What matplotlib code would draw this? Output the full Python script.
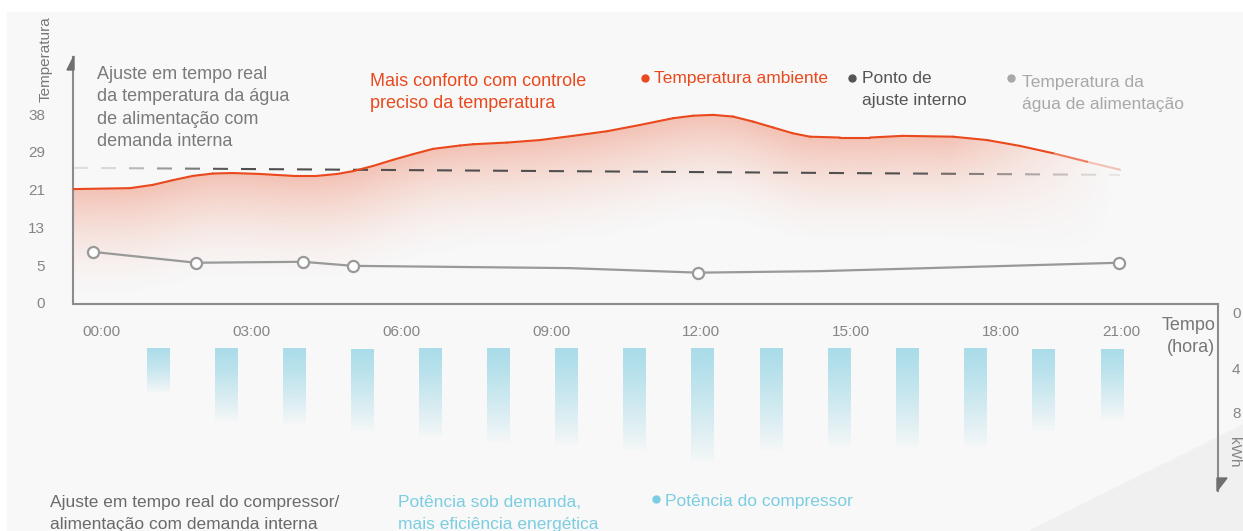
import numpy as np
import matplotlib.pyplot as plt
from matplotlib.patches import Polygon, Rectangle
from matplotlib.lines import Line2D
from matplotlib.collections import LineCollection
from matplotlib.colors import to_rgb

plt.rcParams['font.family'] = ['Liberation Sans', 'DejaVu Sans']

# ---- data ----
hour_ticks = [0, 3, 6, 9, 12, 15, 18, 20.4]
hour_labels = ['00:00', '03:00', '06:00', '09:00', '12:00', '15:00', '18:00', '21:00']
temp_ticks = [0, 5, 13, 21, 29, 38]
kwh_ticks = [0, 4, 8]

# ambient temperature (red)
amb_h = [-0.56, 0.58, 1.04, 1.44, 1.84, 2.24, 2.64, 3.18, 3.84, 4.32, 4.72, 5.04,
         5.44, 5.84, 6.24, 6.64, 7.18, 7.44, 8.12, 8.78, 9.44, 10.12, 10.78, 11.44,
         11.84, 12.24, 12.64, 13.04, 13.44, 13.84, 14.18, 14.78, 15.38, 16.04, 17.04,
         17.72, 18.38, 19.04, 19.72, 20.38]
amb_t = [21.1, 21.3, 22.0, 23.0, 23.9, 24.4, 24.5, 24.3, 23.9, 23.9, 24.3, 24.9,
         26.0, 27.3, 28.5, 29.7, 30.5, 30.8, 31.2, 31.8, 32.8, 33.9, 35.4, 37.0,
         37.6, 37.8, 37.4, 36.2, 34.8, 33.4, 32.6, 32.4, 32.4, 32.8, 32.6,
         31.8, 30.4, 28.7, 26.9, 25.2]

# internal set point (dashed)
set_h = [-0.56, 20.38]
set_t = [25.6, 24.1]

# supply water temperature (grey)
water_h = [-0.16, 1.9, 4.04, 5.04, 9.38, 11.94, 14.38, 20.36]
water_t = [7.8, 5.5, 5.7, 4.9, 4.6, 4.0, 4.2, 5.5]
water_marked = [0, 1, 2, 3, 5, 7]

# compressor power bars (kWh, axis grows downward)
bar_h = [1.14, 2.5, 3.86, 5.22, 6.58, 7.94, 9.3, 10.66, 12.02, 13.4, 14.76, 16.12,
         17.48, 18.84, 20.22]
bar_top = 2.5
bar_bottom = [6.2, 8.7, 9.0, 9.6, 10.2, 10.7, 10.9, 11.5, 12.5, 11.5, 11.1, 11.1,
              11.1, 9.6, 8.6]

RED = '#e9491d'
BLUE = '#a9dce9'
AXIS = '#8c8c8c'

# uneven axes -> piecewise linear scales
t_vals = [-5, 0, 5, 13, 21, 29, 38, 47, 56]
t_pos = [-1, 0, 1, 2, 3, 4, 5, 6, 7]
k_vals = [-4, 0, 4, 8, 20]
k_pos = [-57, 0, 57, 101, 233]


def t_fwd(v):
    return np.interp(v, t_vals, t_pos)


def t_inv(p):
    return np.interp(p, t_pos, t_vals)


def k_fwd(v):
    return np.interp(v, k_vals, k_pos)


def k_inv(p):
    return np.interp(p, k_pos, k_vals)


W, H = 1243, 531
fig = plt.figure(figsize=(W / 100, H / 100), dpi=100)
fig.patch.set_facecolor('white')


def fx(px):
    return px / W


def fy(py):
    return 1 - py / H


# background panel
fig.patches.append(Rectangle((fx(7), 0), 1, fy(12), transform=fig.transFigure,
                             color='#f8f8f8', zorder=-10))
fig.patches.append(Polygon([(fx(1030), 0), (1, fy(425)), (1, 0)], transform=fig.transFigure,
                           color='#f0f0f0', zorder=-9))

# ---- temperature panel ----
ax = fig.add_axes([fx(73), fy(304), fx(1218) - fx(73), fy(57) - fy(304)])
ax.set_facecolor('none')
ax.set_yscale('function', functions=(t_fwd, t_inv))
ax.set_xlim(-0.56, 22.34)
ax.set_ylim(t_inv(-0.03), t_inv(6.51))
ax.set_autoscale_on(False)
for s in ['top', 'right']:
    ax.spines[s].set_visible(False)
for s in ['left', 'bottom']:
    ax.spines[s].set_color(AXIS)
    ax.spines[s].set_linewidth(1.5)
ax.set_yticks(temp_ticks)
ax.set_yticklabels([str(t) for t in temp_ticks])
ax.minorticks_off()
ax.set_xticks(hour_ticks)
ax.set_xticklabels(hour_labels)
ax.tick_params(axis='both', length=0, labelsize=11, labelcolor='#858585')
ax.tick_params(axis='x', pad=15)
ax.tick_params(axis='y', pad=20)

# gradient fill under the ambient curve
to_axes = ax.transData + ax.transAxes.inverted()
curve = to_axes.transform(np.column_stack([amb_h, amb_t]))
ax_h_px = fy(57) * H - fy(304) * H
ax_w_px = 1218 - 73
nx, ny = 600, 300
xs = np.linspace(0, 1, nx)
ys = np.linspace(0, 1, ny)
cy = np.interp(xs, curve[:, 0], curve[:, 1])
dist = (cy[None, :] - ys[:, None]) * ax_h_px
alpha = 0.31 * np.clip(1 - dist / 115, 0, 1) ** 1.8
xend = curve[-1, 0]
alpha *= np.clip((xend - xs[None, :]) * ax_w_px / 170, 0, 1) ** 1.3
img = np.zeros((ny, nx, 4))
img[..., :3] = to_rgb(RED)
img[..., 3] = alpha
im = ax.imshow(img, extent=[0, 1, 0, 1], transform=ax.transAxes, origin='lower',
               aspect='auto', interpolation='bilinear', zorder=1)
clip = Polygon(np.vstack([[curve[0, 0], 0], curve, [curve[-1, 0], 0]]),
               transform=ax.transAxes, facecolor='none', edgecolor='none')
ax.add_patch(clip)
im.set_clip_path(clip)

# ambient line, fading at its right end
pts = np.column_stack([amb_h, amb_t])
segs = np.stack([pts[:-1], pts[1:]], axis=1)
mid = (np.array(amb_h[:-1]) + np.array(amb_h[1:])) / 2
a = np.clip((20.6 - mid) / 1.8, 0.12, 1)
cols = [(*to_rgb(RED), v) for v in a]
ax.add_collection(LineCollection(segs, colors=cols, linewidths=1.5, zorder=3,
                                 capstyle='round', joinstyle='round'))

# dashed set point, fading at both ends
period, dash = 0.56, 0.30
starts = np.arange(set_h[0], set_h[1] - dash / 2, period)
ends = np.minimum(starts + dash, set_h[1])
dsegs = [[(s, np.interp(s, set_h, set_t)), (e, np.interp(e, set_h, set_t))]
         for s, e in zip(starts, ends)]
fade = np.clip((starts - set_h[0]) / 3.0, 0.15, 1) * np.clip((set_h[1] - starts) / 4.5, 0.1, 1)
dcols = [(0.31, 0.31, 0.31, v) for v in fade]
ax.add_collection(LineCollection(dsegs, colors=dcols, linewidths=1.5, zorder=2))

# supply water line
ax.plot(water_h, water_t, color='#999999', lw=1.6, marker='o', markersize=8,
        markerfacecolor='#fdfdfd', markeredgecolor='#999999', markeredgewidth=1.6,
        markevery=water_marked, zorder=4)

# ---- compressor panel ----
bx = fig.add_axes([fx(73), fy(491), fx(1218) - fx(73), fy(304) - fy(491)])
bx.set_facecolor('none')
bx.set_yscale('function', functions=(k_fwd, k_inv))
bx.set_xlim(-0.56, 22.34)
bx.set_ylim(k_inv(179), k_inv(-8))
bx.set_autoscale_on(False)
for s in ['top', 'left', 'bottom']:
    bx.spines[s].set_visible(False)
bx.spines['right'].set_color(AXIS)
bx.spines['right'].set_linewidth(1.5)
bx.set_xticks([])
bx.yaxis.tick_right()
bx.set_yticks(kwh_ticks)
bx.set_yticklabels([str(k) for k in kwh_ticks])
bx.minorticks_off()
bx.tick_params(axis='y', length=0, labelsize=11, labelcolor='#858585', pad=10)

grad = np.zeros((100, 1, 4))
grad[..., :3] = to_rgb(BLUE)
grad[:, 0, 3] = np.linspace(1, 0.03, 100) ** 0.9
bw = 0.46
for h, b in zip(bar_h, bar_bottom):
    bx.imshow(grad, extent=[h - bw / 2, h + bw / 2, b, bar_top], origin='upper',
              aspect='auto', interpolation='bilinear', zorder=2)

# axis arrows
fig.patches.append(Polygon([(fx(67), fy(70)), (fx(74), fy(56)), (fx(74), fy(70))],
                           transform=fig.transFigure, color='#6f6f6f'))
fig.patches.append(Polygon([(fx(1217), fy(478)), (fx(1227), fy(478)), (fx(1217), fy(491))],
                           transform=fig.transFigure, color='#6f6f6f'))

# ---- texts ----
def block(x, baselines, lines, color, size=13, ha='left'):
    for y, s in zip(baselines, lines):
        fig.text(fx(x), fy(y), s, color=color, fontsize=size, ha=ha, va='baseline')


def bullet(x, y, color):
    fig.add_artist(Line2D([fx(x)], [fy(y)], marker='o', markersize=5, color=color,
                          transform=fig.transFigure))


fig.text(fx(46), fy(59), 'Temperatura', rotation=90, color='#777777', fontsize=11,
         ha='center', va='center')
block(97, [79, 101, 123.5, 146], ['Ajuste em tempo real', 'da temperatura da água',
                                   'de alimentação com', 'demanda interna'], '#7a7a7a')
block(370, [86, 108], ['Mais conforto com controle', 'preciso da temperatura'], RED)
bullet(645, 78, RED)
block(654, [83], ['Temperatura ambiente'], RED, 12.5)
bullet(852, 78, '#555555')
block(862, [83, 105], ['Ponto de', 'ajuste interno'], '#555555', 12.5)
bullet(1011, 78, '#a8a8a8')
block(1022, [87, 109], ['Temperatura da', 'água de alimentação'], '#a8a8a8', 12.5)

block(1215, [330, 352], ['Tempo', '(hora)'], '#777777', 13, ha='right')
fig.text(fx(1234), fy(452), 'kWh', rotation=-90, color='#858585', fontsize=11,
         ha='center', va='center')

block(50, [507, 529], ['Ajuste em tempo real do compressor/',
                       'alimentação com demanda interna'], '#6a6a6a', 12.5)
block(398, [507, 529], ['Potência sob demanda,', 'mais eficiência energética'], '#7ccde1', 12.5)
bullet(656, 499, '#7ccde1')
block(665, [506], ['Potência do compressor'], '#7ccde1', 12.5)

fig.savefig('out.png', dpi=100, facecolor=fig.get_facecolor())
